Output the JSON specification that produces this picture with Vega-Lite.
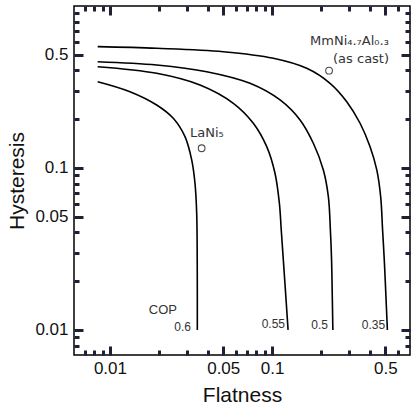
{
  "$schema": "https://vega.github.io/schema/vega-lite/v6.json",
  "width": 336,
  "height": 349,
  "autosize": {"type": "none"},
  "padding": {"left": 74, "top": 6, "right": 3, "bottom": 53},
  "background": "white",
  "config": {
    "view": {"stroke": "black", "strokeWidth": 1.5},
    "font": "Liberation Sans",
    "axis": {
      "grid": false,
      "labelColor": "#111111",
      "labelFont": "Liberation Sans",
      "labelFontSize": 17,
      "titleFont": "Liberation Sans",
      "titleFontSize": 21,
      "titleFontWeight": "normal",
      "titleColor": "#111111",
      "labelOverlap": false,
      "labelBound": false,
      "labelFlush": false
    }
  },
  "datasets": {
    "curves": [
      {"cop": "0.6", "i": 1, "flatness": 0.0084, "hysteresis": 0.3409},
      {"cop": "0.6", "i": 2, "flatness": 0.01329, "hysteresis": 0.2958},
      {"cop": "0.6", "i": 3, "flatness": 0.01942, "hysteresis": 0.2448},
      {"cop": "0.6", "i": 4, "flatness": 0.02458, "hysteresis": 0.2026},
      {"cop": "0.6", "i": 5, "flatness": 0.02904, "hysteresis": 0.156},
      {"cop": "0.6", "i": 6, "flatness": 0.03194, "hysteresis": 0.1121},
      {"cop": "0.6", "i": 7, "flatness": 0.03347, "hysteresis": 0.08043},
      {"cop": "0.6", "i": 8, "flatness": 0.03429, "hysteresis": 0.05254},
      {"cop": "0.6", "i": 9, "flatness": 0.03455, "hysteresis": 0.02705},
      {"cop": "0.6", "i": 10, "flatness": 0.0346, "hysteresis": 0.01},
      {"cop": "0.55", "i": 1, "flatness": 0.0084, "hysteresis": 0.422},
      {"cop": "0.55", "i": 2, "flatness": 0.01942, "hysteresis": 0.3842},
      {"cop": "0.55", "i": 3, "flatness": 0.03594, "hysteresis": 0.3253},
      {"cop": "0.55", "i": 4, "flatness": 0.05771, "hysteresis": 0.2508},
      {"cop": "0.55", "i": 5, "flatness": 0.07666, "hysteresis": 0.1888},
      {"cop": "0.55", "i": 6, "flatness": 0.09275, "hysteresis": 0.1353},
      {"cop": "0.55", "i": 7, "flatness": 0.1043, "hysteresis": 0.09275},
      {"cop": "0.55", "i": 8, "flatness": 0.111, "hysteresis": 0.06055},
      {"cop": "0.55", "i": 9, "flatness": 0.114, "hysteresis": 0.04143},
      {"cop": "0.55", "i": 10, "flatness": 0.1174, "hysteresis": 0.02705},
      {"cop": "0.55", "i": 11, "flatness": 0.1215, "hysteresis": 0.0164},
      {"cop": "0.55", "i": 12, "flatness": 0.1256, "hysteresis": 0.01},
      {"cop": "0.5", "i": 1, "flatness": 0.0084, "hysteresis": 0.4531},
      {"cop": "0.5", "i": 2, "flatness": 0.01942, "hysteresis": 0.4323},
      {"cop": "0.5", "i": 3, "flatness": 0.03952, "hysteresis": 0.393},
      {"cop": "0.5", "i": 4, "flatness": 0.07314, "hysteresis": 0.3333},
      {"cop": "0.5", "i": 5, "flatness": 0.1121, "hysteresis": 0.2629},
      {"cop": "0.5", "i": 6, "flatness": 0.1489, "hysteresis": 0.1978},
      {"cop": "0.5", "i": 7, "flatness": 0.1798, "hysteresis": 0.1421},
      {"cop": "0.5", "i": 8, "flatness": 0.2073, "hysteresis": 0.0972},
      {"cop": "0.5", "i": 9, "flatness": 0.2226, "hysteresis": 0.0665},
      {"cop": "0.5", "i": 10, "flatness": 0.2291, "hysteresis": 0.04143},
      {"cop": "0.5", "i": 11, "flatness": 0.233, "hysteresis": 0.02705},
      {"cop": "0.5", "i": 12, "flatness": 0.2353, "hysteresis": 0.0164},
      {"cop": "0.5", "i": 13, "flatness": 0.2373, "hysteresis": 0.01},
      {"cop": "0.35", "i": 1, "flatness": 0.0084, "hysteresis": 0.5609},
      {"cop": "0.35", "i": 2, "flatness": 0.01942, "hysteresis": 0.5482},
      {"cop": "0.35", "i": 3, "flatness": 0.05004, "hysteresis": 0.5223},
      {"cop": "0.35", "i": 4, "flatness": 0.1019, "hysteresis": 0.4755},
      {"cop": "0.35", "i": 5, "flatness": 0.1637, "hysteresis": 0.4124},
      {"cop": "0.35", "i": 6, "flatness": 0.228, "hysteresis": 0.3333},
      {"cop": "0.35", "i": 7, "flatness": 0.2891, "hysteresis": 0.2566},
      {"cop": "0.35", "i": 8, "flatness": 0.3493, "hysteresis": 0.1888},
      {"cop": "0.35", "i": 9, "flatness": 0.4026, "hysteresis": 0.1353},
      {"cop": "0.35", "i": 10, "flatness": 0.4429, "hysteresis": 0.0972},
      {"cop": "0.35", "i": 11, "flatness": 0.468, "hysteresis": 0.0665},
      {"cop": "0.35", "i": 12, "flatness": 0.481, "hysteresis": 0.04143},
      {"cop": "0.35", "i": 13, "flatness": 0.4927, "hysteresis": 0.02705},
      {"cop": "0.35", "i": 14, "flatness": 0.504, "hysteresis": 0.0164},
      {"cop": "0.35", "i": 15, "flatness": 0.5149, "hysteresis": 0.01}
    ],
    "alloys": [
      {"alloy": "LaNi5", "flatness": 0.0368, "hysteresis": 0.1323},
      {"alloy": "MmNi4.7Al0.3 (as cast)", "flatness": 0.2248, "hysteresis": 0.3987}
    ],
    "curveLabels": [
      {"label": "0.6", "flatness": 0.03162, "hysteresis": 0.01044},
      {"label": "0.55", "flatness": 0.1203, "hysteresis": 0.01089},
      {"label": "0.5", "flatness": 0.2216, "hysteresis": 0.01074},
      {"label": "0.35", "flatness": 0.4983, "hysteresis": 0.01074}
    ],
    "copLabel": [
      {"label": "COP", "flatness": 0.02592, "hysteresis": 0.01329}
    ],
    "alloyLabels": [
      {"label": "LaNi₅", "flatness": 0.03118, "hysteresis": 0.1644},
      {"label": "MmNi₄.₇Al₀.₃", "flatness": 0.1716, "hysteresis": 0.6081},
      {"label": "(as cast)", "flatness": 0.2379, "hysteresis": 0.4707}
    ]
  },
  "layer": [
    {
      "data": {"name": "curves"},
      "mark": {"type": "line", "interpolate": "catmull-rom", "strokeWidth": 1.6, "color": "black"},
      "encoding": {
        "x": {
          "field": "flatness", "type": "quantitative",
          "scale": {"type": "log", "domain": [0.006, 0.71], "nice": false},
          "axis": {
            "orient": "bottom",
            "title": "Flatness",
            "titlePadding": 8,
            "values": [0.01, 0.05, 0.1, 0.5],
            "domain": false,
            "ticks": true,
            "tickSize": -9,
            "tickColor": "#202034",
            "tickWidth": 3,
            "labelPadding": 14,
            "labelExpr": "format(datum.value, '~g')"
          }
        },
        "y": {
          "field": "hysteresis", "type": "quantitative",
          "scale": {"type": "log", "domain": [0.007, 1.0], "nice": false},
          "axis": {
            "orient": "left",
            "title": "Hysteresis",
            "titlePadding": 7,
            "values": [0.01, 0.05, 0.1, 0.5],
            "domain": false,
            "ticks": true,
            "tickSize": -9,
            "tickColor": "#202034",
            "tickWidth": 3,
            "labelPadding": 15,
            "labelExpr": "format(datum.value, '~g')"
          }
        },
        "detail": {"field": "cop", "type": "nominal"},
        "order": {"field": "i", "type": "quantitative"}
      }
    },
    {
      "data": {"name": "alloys"},
      "mark": {"type": "point", "shape": "circle", "filled": false, "size": 45, "stroke": "black", "strokeWidth": 1.1},
      "encoding": {
        "x": {
          "field": "flatness", "type": "quantitative",
          "axis": {
            "orient": "bottom", "title": null, "labels": false, "domain": false, "ticks": true,
            "tickColor": "#202034", "tickWidth": 3, "tickSize": -5,
            "values": [0.007, 0.008, 0.009, 0.02, 0.03, 0.04, 0.06, 0.07, 0.08, 0.09, 0.2, 0.3, 0.4, 0.6]
          }
        },
        "y": {
          "field": "hysteresis", "type": "quantitative",
          "axis": {
            "orient": "left", "title": null, "labels": false, "domain": false, "ticks": true,
            "tickColor": "#202034", "tickWidth": 3, "tickSize": -5,
            "values": [0.008, 0.009, 0.02, 0.03, 0.04, 0.06, 0.07, 0.08, 0.09, 0.2, 0.3, 0.4, 0.6, 0.7, 0.8, 0.9]
          }
        }
      }
    },
    {
      "data": {"name": "curveLabels"},
      "mark": {"type": "text", "align": "right", "baseline": "middle", "fontSize": 12, "color": "#333333", "font": "Liberation Sans"},
      "encoding": {
        "x": {
          "field": "flatness", "type": "quantitative",
          "axis": {
            "orient": "top", "title": null, "labels": false, "domain": false, "ticks": true,
            "tickColor": "#202034", "tickWidth": 3, "tickSize": -9,
            "values": [0.01, 0.05, 0.1, 0.5]
          }
        },
        "y": {
          "field": "hysteresis", "type": "quantitative",
          "axis": {
            "orient": "right", "title": null, "labels": false, "domain": false, "ticks": true,
            "tickColor": "#202034", "tickWidth": 3, "tickSize": -9,
            "values": [0.01, 0.05, 0.1, 0.5]
          }
        },
        "text": {"field": "label"}
      }
    },
    {
      "data": {"name": "copLabel"},
      "mark": {"type": "text", "align": "right", "baseline": "middle", "fontSize": 13, "color": "#333333", "font": "Liberation Sans"},
      "encoding": {
        "x": {
          "field": "flatness", "type": "quantitative",
          "axis": {
            "orient": "top", "title": null, "labels": false, "domain": false, "ticks": true,
            "tickColor": "#202034", "tickWidth": 3, "tickSize": -5,
            "values": [0.007, 0.008, 0.009, 0.02, 0.03, 0.04, 0.06, 0.07, 0.08, 0.09, 0.2, 0.3, 0.4, 0.6]
          }
        },
        "y": {
          "field": "hysteresis", "type": "quantitative",
          "axis": {
            "orient": "right", "title": null, "labels": false, "domain": false, "ticks": true,
            "tickColor": "#202034", "tickWidth": 3, "tickSize": -5,
            "values": [0.008, 0.009, 0.02, 0.03, 0.04, 0.06, 0.07, 0.08, 0.09, 0.2, 0.3, 0.4, 0.6, 0.7, 0.8, 0.9]
          }
        },
        "text": {"field": "label"}
      }
    },
    {
      "data": {"name": "alloyLabels"},
      "mark": {"type": "text", "align": "left", "baseline": "middle", "fontSize": 13, "color": "#333333", "font": "DejaVu Sans"},
      "encoding": {
        "x": {"field": "flatness", "type": "quantitative", "axis": null},
        "y": {"field": "hysteresis", "type": "quantitative", "axis": null},
        "text": {"field": "label"}
      }
    }
  ],
  "resolve": {"axis": {"x": "independent", "y": "independent"}}
}
